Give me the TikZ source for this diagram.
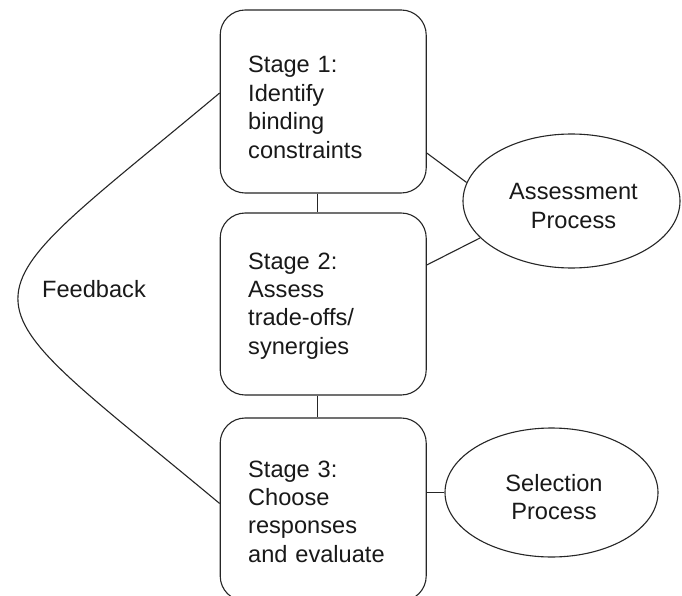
\documentclass[tikz,border=0pt]{standalone}
\usepackage{fontspec}
\setmainfont{Liberation Sans}
\usetikzlibrary{shapes.geometric}
\begin{document}
\begin{tikzpicture}[x=1pt,y=-1pt,
  line/.style={draw=black!85, line width=1.1pt},
  stagebox/.style={line, rounded corners=25pt, minimum width=206pt, minimum height=183pt, inner sep=0pt},
  proc/.style={line, ellipse, inner sep=0pt},
  txt/.style={font=\fontsize{23.6}{28.4}\selectfont, inner sep=0pt, text width=170pt, align=left, anchor=base west, text=black!90},
  ctxt/.style={txt, align=center, anchor=base}]
\fill[white] (0,0) rectangle (682,596);
\useasboundingbox (0,0) rectangle (682,596);

% stage boxes
\node[stagebox] (b1) at (323.2,101.5) {};
\node[stagebox, minimum height=182pt] (b2) at (323.2,304) {};
\node[stagebox] (b3) at (323.2,509.5) {};

% stage texts
\node[txt] (t1) at (248,73) {Stage 1:\\Identify\\binding\\constraints};
\node[txt] (t2) at (248,269) {Stage 2:\\Assess\\trade-offs/\\synergies};
\node[txt] (t3) at (248,477) {Stage 3:\\Choose\\responses\\and evaluate};

% process ellipses
\node[proc, minimum width=217pt, minimum height=134pt] (ae) at (571.5,201) {};
\node[proc, minimum width=213pt, minimum height=129pt] (se) at (551.5,492.5) {};
\node[ctxt] (at) at (573.5,200) {Assessment\\Process};
\node[ctxt] (st) at (554,491) {Selection\\Process};

% feedback label
\node[txt] (fb) at (42,297) {Feedback};

% links between stages
\draw[line] ([xshift=-6pt]b1.south) -- ([xshift=-6pt]b2.north);
\draw[line] ([xshift=-6pt]b2.south) -- ([xshift=-6pt]b3.north);

% links to the processes
\draw[line] ([yshift=-51.5pt]b1.east) -- (ae.170);
\draw[line] ([yshift=39pt]b2.east) -- (ae.202.5);
\draw[line] (b3.east |- se.west) -- (se.west);

% feedback loop from stage 3 back to stage 1
\coordinate (f1) at ([yshift=8.5pt]b1.west);
\coordinate (f3) at ([yshift=6pt]b3.west);
\draw[line] (f1) .. controls +(-269,225) and +(-269,-224) .. (f3);
\end{tikzpicture}
\end{document}
